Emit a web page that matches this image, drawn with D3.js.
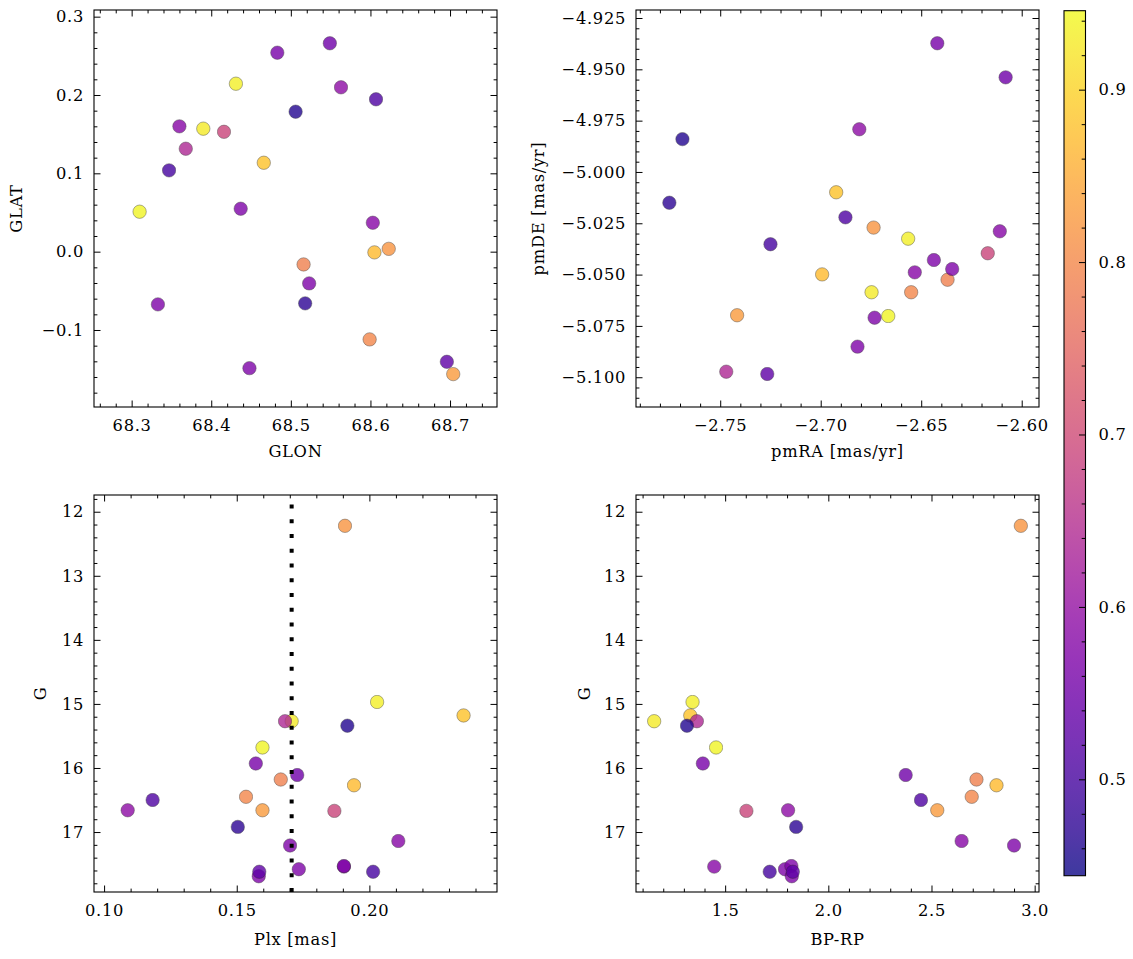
<!DOCTYPE html>
<html><head><meta charset="utf-8">
<script src="https://cdn.jsdelivr.net/npm/d3@7"></script>
<style>
body{margin:0;background:#fff}
</style>
</head><body>
<svg id="c" width="1133" height="959"></svg>
<script>
// ---- data (one entry per star) ----
const glon = [68.623,68.431,68.466,68.390,68.368,68.506,68.310,68.483,68.549,68.516,68.605,68.607,68.599,68.416,68.563,68.518,68.360,68.437,68.603,68.347,68.523,68.333,68.448,68.696,68.704];
const glat = [0.0036,0.2144,0.1135,0.157,0.1314,0.1787,0.051,0.254,0.266,-0.0163,-0.0009,0.1945,-0.112,0.153,0.2098,-0.066,0.160,0.0548,0.0369,0.1038,-0.0405,-0.0673,-0.1487,-0.1406,-0.1563];
const pmra = [-2.6737,-2.6565,-2.6923,-2.6747,-2.747,-2.7688,-2.6664,-2.642,-2.608,-2.6369,-2.6993,-2.6877,-2.655,-2.6169,-2.6808,-2.7753,-2.6109,-2.6437,-2.6532,-2.725,-2.6346,-2.6732,-2.6817,-2.7266,-2.7416];
const pmde = [-5.0271,-5.0325,-5.0099,-5.0586,-5.0973,-4.984,-5.0702,-4.9373,-4.9539,-5.0525,-5.0499,-5.0221,-5.0586,-5.0396,-4.9792,-5.015,-5.0289,-5.0429,-5.0489,-5.0352,-5.0473,-5.071,-5.0851,-5.0984,-5.0698];
const plx  = [0.1908,0.2029,0.2355,0.1707,0.1682,0.1917,0.1597,0.1572,0.1728,0.1666,0.1942,0.1183,0.1535,0.1868,0.1089,0.1504,0.2109,0.1701,0.1904,0.2014,0.1734,0.1904,0.1583,0.1585,0.1597];
const gmag = [12.22,14.97,15.18,15.27,15.27,15.34,15.68,15.93,16.11,16.18,16.27,16.50,16.45,16.67,16.66,16.92,17.14,17.21,17.54,17.62,17.58,17.53,17.69,17.62,16.66];
const bprp = [2.933,1.342,1.331,1.156,1.363,1.315,1.456,1.392,2.375,2.718,2.815,2.449,2.695,1.603,1.805,1.844,2.646,2.900,1.447,1.716,1.790,1.821,1.823,1.828,2.528];
const prob = [0.82,0.935,0.88,0.93,0.64,0.46,0.94,0.56,0.55,0.79,0.87,0.51,0.80,0.69,0.59,0.47,0.58,0.57,0.58,0.50,0.57,0.57,0.57,0.53,0.83];
const plxRef = 0.1707;

// ---- axis ranges and tick labels ----
const glonDomain = [68.2527, 68.759], glatDomain = [-0.1983, 0.3085];
const pmraDomain = [-2.7919, -2.5914], pmdeDomain = [-5.1145, -4.9211];
const plxDomain = [0.0962, 0.2481], gDomain = [17.936, 11.739];
const bprpDomain = [1.068, 3.021];
const probDomain = [0.4441, 0.9458];

const glonTicks = [68.3,68.4,68.5,68.6,68.7], glonLabels = ["68.3","68.4","68.5","68.6","68.7"];
const glatTicks = [-0.1,0.0,0.1,0.2,0.3], glatLabels = ["\u22120.1","0.0","0.1","0.2","0.3"];
const pmraTicks = [-2.75,-2.70,-2.65,-2.60], pmraLabels = ["\u22122.75","\u22122.70","\u22122.65","\u22122.60"];
const pmdeTicks = [-5.100,-5.075,-5.050,-5.025,-5.000,-4.975,-4.950,-4.925];
const pmdeLabels = ["\u22125.100","\u22125.075","\u22125.050","\u22125.025","\u22125.000","\u22124.975","\u22124.950","\u22124.925"];
const plxTicks = [0.10,0.15,0.20], plxLabels = ["0.10","0.15","0.20"];
const gTicks = [12,13,14,15,16,17], gLabels = ["12","13","14","15","16","17"];
const bprpTicks = [1.5,2.0,2.5,3.0], bprpLabels = ["1.5","2.0","2.5","3.0"];
const cbTicks = [0.5,0.6,0.7,0.8,0.9], cbLabels = ["0.5","0.6","0.7","0.8","0.9"];

const svg = d3.select("#c");
const FONT = "'DejaVu Serif', serif";
const FS = 16.3, LS = "0.7px";
const cScale = d3.scaleSequential(d3.interpolatePlasma).domain(probDomain);

function minorVals(domain, step){
  const lo = Math.min(...domain), hi = Math.max(...domain);
  const out = [];
  for (let k = Math.ceil(lo/step - 1e-9); k*step <= hi + 1e-9; k++) out.push(+(k*step).toFixed(6));
  return out;
}

function panel(o){
  const {x0,x1,y0,y1} = o;
  const xs = d3.scaleLinear().domain(o.xd).range([x0,x1]);
  const ys = d3.scaleLinear().domain(o.yd).range([y1,y0]);
  const g = svg.append("g");
  const xv = o.xv, yv = o.yv;
  g.append("g").selectAll("circle").data(d3.range(xv.length)).join("circle")
    .attr("cx", i => xs(xv[i])).attr("cy", i => ys(yv[i])).attr("r", 6.7)
    .attr("fill", i => cScale(prob[i])).attr("stroke", "#222").attr("stroke-width", 0.45)
    .attr("opacity", 0.8);
  if (o.extra) o.extra(g, xs, ys);
  const xm = minorVals(o.xd, o.xminor).filter(v => !o.xt.some(t => Math.abs(t-v) < 1e-6));
  const ym = minorVals(o.yd, o.yminor).filter(v => !o.yt.some(t => Math.abs(t-v) < 1e-6));
  const styleAxis = a => { a.select(".domain").remove(); a.selectAll("line").attr("stroke","#000").attr("stroke-width",1); };
  [[d3.axisBottom, y1],[d3.axisTop, y0]].forEach(([fn, yy]) => {
    g.append("g").attr("transform",`translate(0,${yy})`).call(fn(xs).tickValues(xm).tickSize(-3.4).tickFormat("")).call(styleAxis);
  });
  [[d3.axisLeft, x0],[d3.axisRight, x1]].forEach(([fn, xx]) => {
    g.append("g").attr("transform",`translate(${xx},0)`).call(fn(ys).tickValues(ym).tickSize(-3.4).tickFormat("")).call(styleAxis);
  });
  g.append("g").attr("transform",`translate(0,${y1})`)
    .call(d3.axisBottom(xs).tickValues(o.xt).tickSize(-6.5).tickPadding(12.5).tickFormat((d,i)=>o.xl[i])).call(styleAxis);
  g.append("g").attr("transform",`translate(0,${y0})`)
    .call(d3.axisTop(xs).tickValues(o.xt).tickSize(-6.5).tickFormat("")).call(styleAxis);
  g.append("g").attr("transform",`translate(${x0},0)`)
    .call(d3.axisLeft(ys).tickValues(o.yt).tickSize(-6.5).tickPadding(10).tickFormat((d,i)=>o.yl[i])).call(styleAxis);
  g.append("g").attr("transform",`translate(${x1},0)`)
    .call(d3.axisRight(ys).tickValues(o.yt).tickSize(-6.5).tickFormat("")).call(styleAxis);
  g.append("rect").attr("x",x0).attr("y",y0).attr("width",x1-x0).attr("height",y1-y0)
    .attr("fill","none").attr("stroke","#000").attr("stroke-width",1.1);
  g.append("text").attr("x",(x0+x1)/2).attr("y",o.xlabY).attr("text-anchor","middle").text(o.xlab);
  g.append("text").attr("transform",`translate(${o.ylabX},${(y0+y1)/2}) rotate(-90)`).attr("text-anchor","middle").text(o.ylab);
}

panel({x0:94,x1:497,y0:10,y1:407, xd:glonDomain, yd:glatDomain, xv:glon, yv:glat,
  xt:glonTicks, xl:glonLabels, yt:glatTicks, yl:glatLabels, xminor:0.02, yminor:0.02,
  xlab:"GLON", ylab:"GLAT", xlabY:457, ylabX:22});
panel({x0:636,x1:1039,y0:10,y1:407, xd:pmraDomain, yd:pmdeDomain, xv:pmra, yv:pmde,
  xt:pmraTicks, xl:pmraLabels, yt:pmdeTicks, yl:pmdeLabels, xminor:0.01, yminor:0.005,
  xlab:"pmRA [mas/yr]", ylab:"pmDE [mas/yr]", xlabY:457, ylabX:544});
panel({x0:94,x1:497,y0:495,y1:892, xd:plxDomain, yd:gDomain, xv:plx, yv:gmag,
  xt:plxTicks, xl:plxLabels, yt:gTicks, yl:gLabels, xminor:0.01, yminor:0.2,
  xlab:"Plx [mas]", ylab:"G", xlabY:945, ylabX:46,
  extra:(g,xs,ys)=>{
    g.append("line").attr("x1",xs(plxRef)).attr("x2",xs(plxRef)).attr("y1",892).attr("y2",495)
      .attr("stroke","#000").attr("stroke-width",4).attr("stroke-dasharray","4,10.75");
  }});
panel({x0:636,x1:1039,y0:495,y1:892, xd:bprpDomain, yd:gDomain, xv:bprp, yv:gmag,
  xt:bprpTicks, xl:bprpLabels, yt:gTicks, yl:gLabels, xminor:0.1, yminor:0.2,
  xlab:"BP-RP", ylab:"G", xlabY:945, ylabX:590});

// ---- colorbar ----
const cbx0 = 1064, cbx1 = 1085.5, cby0 = 10.7, cby1 = 875.7;
const defs = svg.append("defs");
const grad = defs.append("linearGradient").attr("id","cbg").attr("x1",0).attr("y1",1).attr("x2",0).attr("y2",0);
d3.range(0,1.0001,0.05).forEach(t => grad.append("stop").attr("offset",t).attr("stop-color",d3.interpolatePlasma(t)));
svg.append("rect").attr("x",cbx0).attr("y",cby0).attr("width",cbx1-cbx0).attr("height",cby1-cby0)
  .attr("fill","url(#cbg)").attr("opacity",0.8);
const cy = d3.scaleLinear().domain(probDomain).range([cby1,cby0]);
const cbMinor = minorVals(probDomain, 0.02).filter(v => !cbTicks.some(t => Math.abs(t-v)<1e-6));
svg.append("g").attr("transform",`translate(${cbx1},0)`)
  .call(d3.axisRight(cy).tickValues(cbMinor).tickSize(-3.8).tickFormat(""))
  .call(a=>{a.select(".domain").remove(); a.selectAll("line").attr("stroke","#000");});
svg.append("g").attr("transform",`translate(${cbx1},0)`)
  .call(d3.axisRight(cy).tickValues(cbTicks).tickSize(-6.5).tickPadding(13).tickFormat((d,i)=>cbLabels[i]))
  .call(a=>{a.select(".domain").remove(); a.selectAll("line").attr("stroke","#000");});
svg.append("rect").attr("x",cbx0).attr("y",cby0).attr("width",cbx1-cbx0).attr("height",cby1-cby0)
  .attr("fill","none").attr("stroke","#000").attr("stroke-width",1.1);

// ---- uniform text style ----
svg.selectAll("g").attr("font-family", null).attr("font-size", null);
svg.selectAll("text").attr("font-family", FONT).attr("font-size", FS)
  .style("letter-spacing", LS).attr("fill", "#000");
</script>
</body></html>
